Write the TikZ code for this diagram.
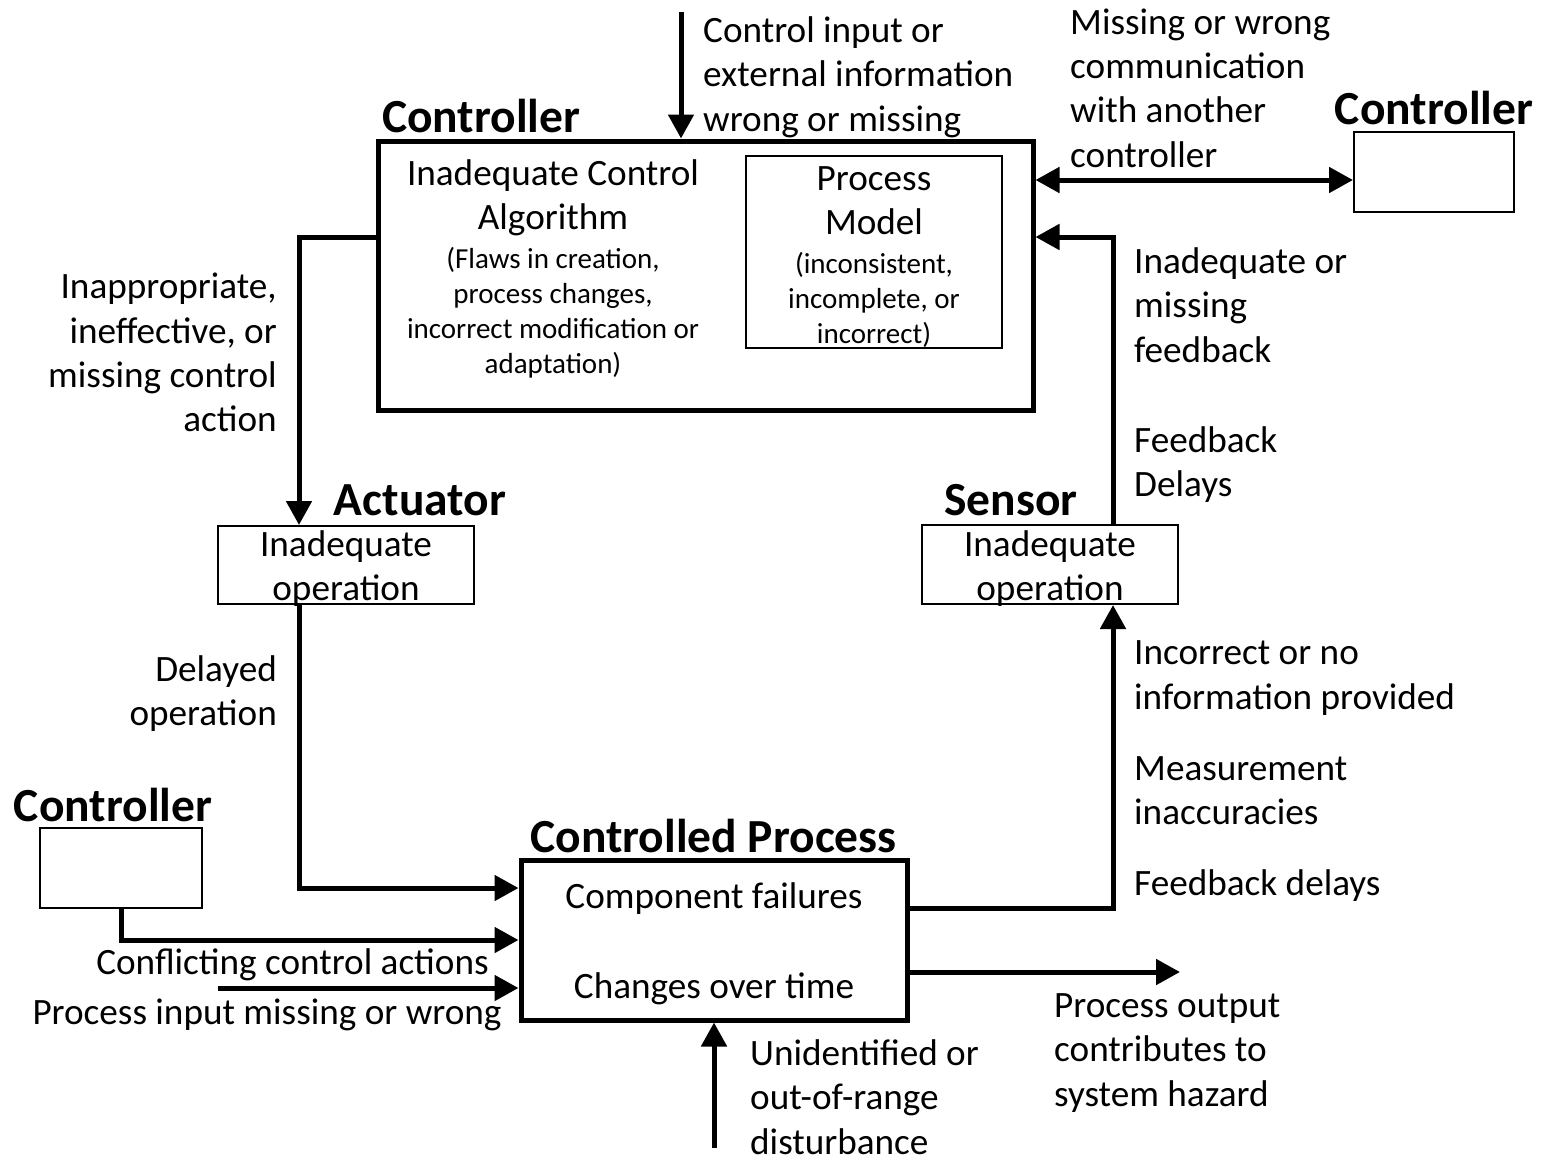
\documentclass[tikz,border=0pt]{standalone}
\usepackage{fontspec}
\setmainfont{Carlito}
\usetikzlibrary{arrows.meta}
\begin{document}
\begin{tikzpicture}[x=1pt,y=-1pt,
  thickbox/.style={draw, line width=5pt, inner sep=0pt},
  thinbox/.style={draw, line width=2pt, inner sep=0pt},
  conn/.style={line width=5pt, -{Triangle[length=24pt,width=25pt]}},
  dblconn/.style={line width=5pt, {Triangle[length=24pt,width=25pt]}-{Triangle[length=24pt,width=25pt]}},
  lbl/.style={font=\fontsize{37.2}{44.3}\selectfont, inner sep=0pt},
  ttl/.style={font=\fontsize{47.5}{56}\selectfont\bfseries, inner sep=0pt},
  sml/.style={font=\fontsize{29}{35}\selectfont, inner sep=0pt, align=center}]
\useasboundingbox (0,0) rectangle (1541,1157);

% boxes
\node[thickbox, minimum width=655pt, minimum height=269pt] (ctrl) at (705.5,275.5) {};
\node[thinbox, minimum width=256pt, minimum height=192pt] (pm) at (874,252) {};
\node[thinbox, minimum width=160pt, minimum height=80pt] (ctrl2) at (1434,172) {};
\node[thinbox, minimum width=256pt, minimum height=78pt] (act) at (346,565) {};
\node[thinbox, minimum width=256pt, minimum height=79pt] (sen) at (1050,564.5) {};
\node[thickbox, minimum width=386pt, minimum height=160pt] (cp) at (714,940) {};
\node[thinbox, minimum width=162pt, minimum height=80pt] (ctrl3) at (121,868) {};

% titles
\node[ttl, anchor=west] (tctrl) at (382,116) {Controller};
\node[ttl] (tctrl2) at (1434,108) {Controller};
\node[ttl] (tact) at (420,500) {Actuator};
\node[ttl] (tsen) at (1011,500) {Sensor};
\node[ttl] (tcp) at (713.5,836) {Controlled Process};
\node[ttl] (tctrl3) at (113,805) {Controller};

% texts inside boxes
\node[lbl, align=center] (talg) at (553,197.5) {Inadequate Control\\Algorithm};
\node[sml] (talgs) at (553,312.5) {(Flaws in creation,\\process changes,\\incorrect modification or\\adaptation)};
\node[lbl, align=center] (tpm) at (874,200.5) {Process\\Model};
\node[sml] (tpms) at (874,300) {(inconsistent,\\incomplete, or\\incorrect)};
\node[lbl, align=center] (tacti) at (346,568.5) {Inadequate\\operation};
\node[lbl, align=center] (tseni) at (1050,568.5) {Inadequate\\operation};
\node[lbl] (tcf) at (714,899) {Component failures};
\node[lbl] (tcot) at (714,989) {Changes over time};

% connector labels
\node[lbl, align=left, anchor=west] (tin) at (703,77) {Control input or\\external information\\wrong or missing};
\node[lbl, align=left, anchor=west] (tcomm) at (1070,88) {Missing or wrong\\communication\\with another\\controller};
\node[lbl, align=left, anchor=west] (tfb) at (1134,305) {Inadequate or\\missing\\feedback};
\node[lbl, align=left, anchor=west] (tfbd) at (1134,464.5) {Feedback\\Delays};
\node[lbl, align=right, anchor=east] (tica) at (277,352.5) {Inappropriate,\\ineffective, or\\missing control\\action};
\node[lbl, align=right, anchor=east] (tdel) at (277,693.5) {Delayed\\operation};
\node[lbl, anchor=east] (tconf) at (489,965) {Conflicting control actions};
\node[lbl] (tpin) at (267,1015) {Process input missing or wrong};
\node[lbl, align=left, anchor=west] (tinc) at (1134,678) {Incorrect or no\\information provided};
\node[lbl, align=left, anchor=west] (tmeas) at (1134,791) {Measurement\\inaccuracies};
\node[lbl, anchor=west] (tfbd2) at (1134,886) {Feedback delays};
\node[lbl, align=left, anchor=west] (tout) at (1054,1053) {Process output\\contributes to\\system hazard};
\node[lbl, align=left, anchor=west] (tdist) at (750,1097) {Unidentified or\\out-of-range\\disturbance};

% free ends
\coordinate (inTop) at (681,12);
\coordinate (pin) at (218,988);
\coordinate (pout) at (1180,972);
\coordinate (dist) at (714,1148);

% connectors
\draw[conn] (inTop) -- (inTop |- ctrl.north);
\draw[dblconn] ([yshift=-8pt]ctrl2.west -| ctrl.east) -- ([yshift=-8pt]ctrl2.west);
\draw[conn] ([xshift=63pt]sen.north) |- ([yshift=38.5pt]ctrl.east);
\draw[conn] ([yshift=38.5pt]ctrl.west) -| ([xshift=-47pt]act.north);
\draw[conn] ([xshift=-47pt]act.south) |- ([yshift=52pt]cp.west);
\draw[conn] (ctrl3.south) |- (cp.west);
\draw[conn] (pin) -- (pin -| cp.west);
\draw[conn] ([yshift=32pt]cp.east) -| ([xshift=63pt]sen.south);
\draw[conn] ([yshift=-32pt]cp.east) -- (pout);
\draw[conn] (dist) -- (dist |- cp.south);
\end{tikzpicture}
\end{document}
